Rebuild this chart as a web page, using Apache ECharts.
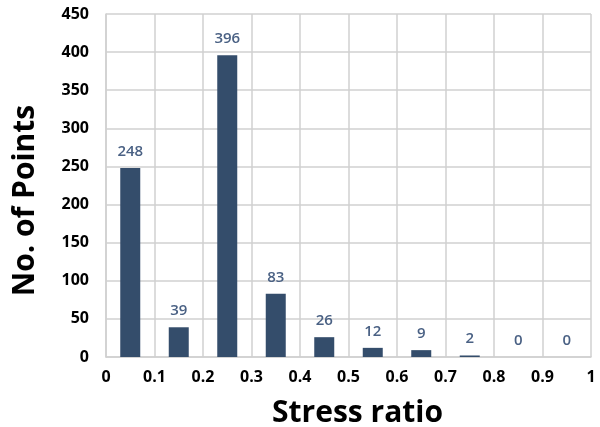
<!DOCTYPE html>
<html>
<head>
<meta charset="utf-8">
<script src="https://cdn.jsdelivr.net/npm/echarts@6/dist/echarts.min.js"></script>
<style>
html, body { margin: 0; padding: 0; background: #fff; }
#chart { width: 600px; height: 427px; }
</style>
</head>
<body>
<div id="chart"></div>
<script>
// bin centres and counts
const binCentres = [0.05, 0.15, 0.25, 0.35, 0.45, 0.55, 0.65, 0.75, 0.85, 0.95]
const counts = [248, 39, 396, 83, 26, 12, 9, 2, 0, 0]

const gridColor = '#d0d0d0'
const font = '"Open Sans", "Noto Sans", sans-serif'

const chart = echarts.init(document.getElementById('chart'))
chart.setOption({
	animation: false,
	grid: { left: 106, right: 9, top: 14, bottom: 70, outerBoundsMode: 'none' },
	xAxis: {
		type: 'value',
		min: 0, max: 1, interval: 0.1,
		name: 'Stress ratio',
		nameLocation: 'middle',
		nameGap: 41,
		// padding nudges the title a little right of centre, as in the original
		nameTextStyle: { fontSize: 30, fontWeight: 'bold', color: '#000', fontFamily: font, padding: [0, 0, 0, 18] },
		axisLine: { show: true, lineStyle: { color: gridColor, width: 1.5 } },
		axisTick: { show: false },
		axisLabel: { fontSize: 16, fontWeight: 'bold', color: '#000', fontFamily: font, margin: 12 },
		splitLine: { show: true, lineStyle: { color: gridColor, width: 1.5 } }
	},
	yAxis: {
		type: 'value',
		min: 0, max: 450, interval: 50,
		name: 'No. of Points',
		nameLocation: 'middle',
		nameGap: 66,
		// title sits a bit below the middle of the axis
		nameTextStyle: { fontSize: 30, fontWeight: 'bold', color: '#000', fontFamily: font, padding: [0, 30, 0, 0] },
		axisLine: { show: true, lineStyle: { color: gridColor, width: 1.5 } },
		axisTick: { show: false },
		axisLabel: { fontSize: 16, fontWeight: 'bold', color: '#000', fontFamily: font, margin: 17 },
		splitLine: { show: true, lineStyle: { color: gridColor, width: 1.5 } }
	},
	series: [{
		type: 'bar',
		data: binCentres.map((x, i) => [x, counts[i]]),
		barWidth: 20,
		itemStyle: { color: '#344d6b' },
		label: {
			show: true,
			position: 'top',
			distance: 9,
			formatter: p => p.value[1],
			fontSize: 15,
			fontWeight: 600,
			color: '#4a6184',
			fontFamily: font
		}
	}]
})
</script>
</body>
</html>
